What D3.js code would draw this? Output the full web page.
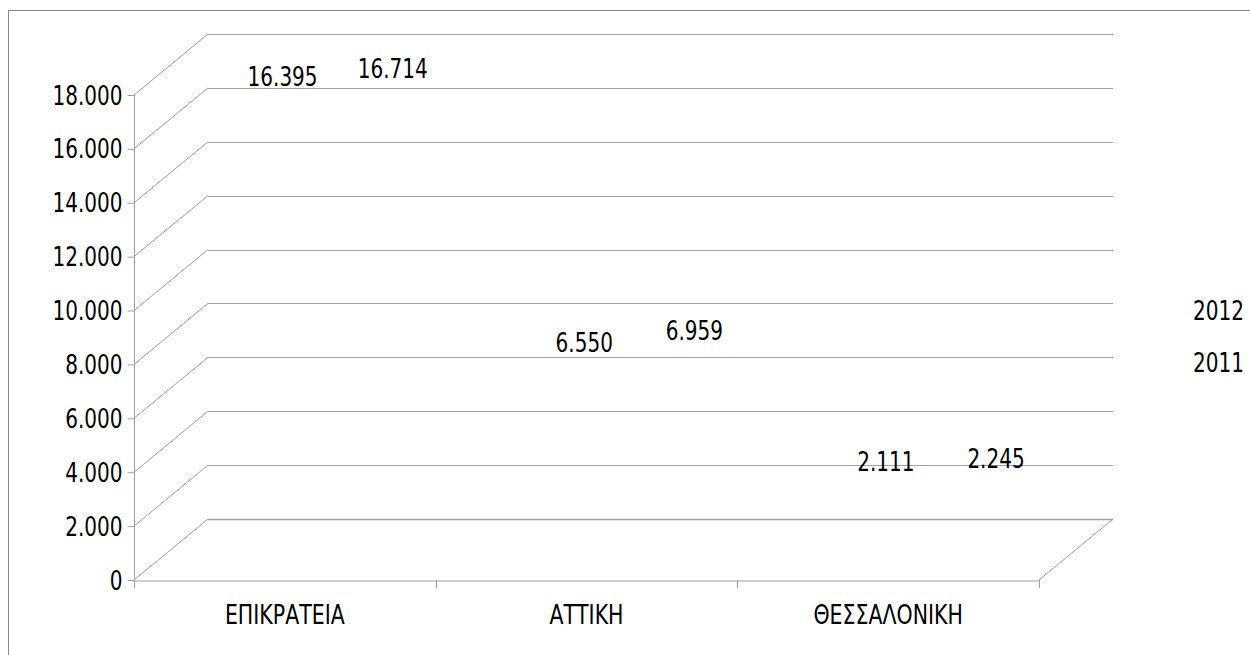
<!DOCTYPE html>
<html>
<head>
<meta charset="utf-8">
<script src="https://cdn.jsdelivr.net/npm/d3@7"></script>
<style>
	body { margin: 0; background: #fff; }
	svg { display: block; }
	text { font-family: "DejaVu Sans", sans-serif; fill: #000; }
</style>
</head>
<body>
<main></main>
<script>
const categories = ["ΕΠΙΚΡΑΤΕΙΑ", "ΑΤΤΙΚΗ", "ΘΕΣΣΑΛΟΝΙΚΗ"];
const seriesNames = ["2011", "2012"];
const values2011 = [16395, 6550, 2111];
const values2012 = [16714, 6959, 2245];
const yTicks = [0, 2000, 4000, 6000, 8000, 10000, 12000, 14000, 16000, 18000];
const legendOrder = ["2012", "2011"];

function drawChart() {
	const width = 1250;
	const height = 655;
	const dimensions = {
		left: 134,
		right: 1039,
		top: 95,
		bottom: 580,
		depthX: 74,
		depthY: -61,
	};

	const svg = d3.select("main")
		.append("svg")
		.attr("width", width)
		.attr("height", height);

	// outer frame (only top and left edges are inside the page)
	svg.append("rect")
		.attr("x", 8.5)
		.attr("y", 10.5)
		.attr("width", 1400)
		.attr("height", 800)
		.attr("fill", "none")
		.attr("stroke", "#888");

	const xScale = d3.scaleBand()
		.domain(categories)
		.range([dimensions.left, dimensions.right]);

	const seriesScale = d3.scalePoint()
		.domain(seriesNames)
		.range([xScale.bandwidth() * 0.31, xScale.bandwidth() * 1.04])
		.padding(0.5);

	const yScale = d3.scaleLinear()
		.domain([0, 18000])
		.range([dimensions.bottom, dimensions.top]);

	const dx = dimensions.depthX;
	const dy = dimensions.depthY;
	const gridColor = "#a0a0a0";

	// back wall grid lines
	svg.selectAll(".back-grid")
		.data(yTicks)
		.enter()
		.append("line")
		.attr("class", "back-grid")
		.attr("x1", dimensions.left + dx)
		.attr("x2", dimensions.right + dx)
		.attr("y1", d => Math.round(yScale(d) + dy) + 0.5)
		.attr("y2", d => Math.round(yScale(d) + dy) + 0.5)
		.attr("stroke", gridColor)
		.attr("stroke-width", d => d === 0 ? 1.6 : 1);

	// side wall diagonals
	svg.selectAll(".side-grid")
		.data(yTicks)
		.enter()
		.append("line")
		.attr("class", "side-grid")
		.attr("x1", dimensions.left)
		.attr("y1", d => yScale(d))
		.attr("x2", dimensions.left + dx)
		.attr("y2", d => yScale(d) + dy)
		.attr("stroke", gridColor);

	// floor right edge
	svg.append("line")
		.attr("x1", dimensions.right)
		.attr("y1", yScale(0))
		.attr("x2", dimensions.right + dx)
		.attr("y2", yScale(0) + dy)
		.attr("stroke", gridColor);

	// y axis
	const locale = d3.formatLocale({ decimal: ",", thousands: ".", grouping: [3], currency: ["", "€"] });
	const yAxisGenerator = d3.axisLeft(yScale)
		.tickValues(yTicks)
		.tickSize(7)
		.tickSizeOuter(0)
		.tickFormat(locale.format(",d"));

	const yAxis = svg.append("g")
		.attr("transform", `translate(${dimensions.left + 0.5}, 0)`)
		.call(yAxisGenerator);
	yAxis.select(".domain").attr("stroke", gridColor)
		.attr("d", `M0,${dimensions.top}V${dimensions.bottom + 8}`);
	yAxis.selectAll(".tick line").attr("stroke", gridColor);
	yAxis.selectAll(".tick text")
		.attr("x", 0)
		.attr("dy", null)
		.attr("y", 0)
		.attr("transform", "translate(-12, 9) scale(0.77, 1)")
		.style("font-size", "26px")
		.style("font-family", "'DejaVu Sans', sans-serif")
		.attr("fill", "#000");

	// x axis
	const xAxisGenerator = d3.axisBottom(xScale)
		.tickSize(0)
		.tickSizeOuter(0);
	const xAxis = svg.append("g")
		.attr("transform", `translate(0, ${dimensions.bottom + 0.5})`)
		.call(xAxisGenerator);
	xAxis.select(".domain").attr("stroke", gridColor);
	xAxis.selectAll(".tick text")
		.attr("y", 0)
		.attr("dy", null)
		.attr("transform", "translate(0, 43) scale(0.76, 1)")
		.style("font-size", "27px")
		.style("font-family", "'DejaVu Sans', sans-serif")
		.attr("fill", "#000");

	const boundaries = categories.map(c => xScale(c)).concat([dimensions.right]);
	svg.selectAll(".x-tick")
		.data(boundaries)
		.enter()
		.append("line")
		.attr("class", "x-tick")
		.attr("x1", d => Math.round(d) + 0.5)
		.attr("x2", d => Math.round(d) + 0.5)
		.attr("y1", dimensions.bottom)
		.attr("y2", dimensions.bottom + 8)
		.attr("stroke", gridColor);

	// data labels (bars themselves are not drawn in the source)
	const labelData = [];
	categories.forEach((c, i) => {
		labelData.push({ category: c, series: "2011", value: values2011[i] });
		labelData.push({ category: c, series: "2012", value: values2012[i] });
	});

	svg.selectAll(".value-label")
		.data(labelData)
		.enter()
		.append("text")
		.attr("class", "value-label")
		.attr("transform", d => `translate(${xScale(d.category) + seriesScale(d.series)}, ${yScale(d.value) + dy + 9}) scale(0.77, 1)`)
		.attr("text-anchor", "middle")
		.style("font-size", "26px")
		.text(d => locale.format(",d")(d.value));

	// legend (no symbols visible)
	svg.selectAll(".legend")
		.data(legendOrder)
		.enter()
		.append("text")
		.attr("class", "legend")
		.attr("transform", (d, i) => `translate(1193, ${320 + i * 52}) scale(0.77, 1)`)
		.style("font-size", "26px")
		.text(d => d);
}
drawChart();
</script>
</body>
</html>
